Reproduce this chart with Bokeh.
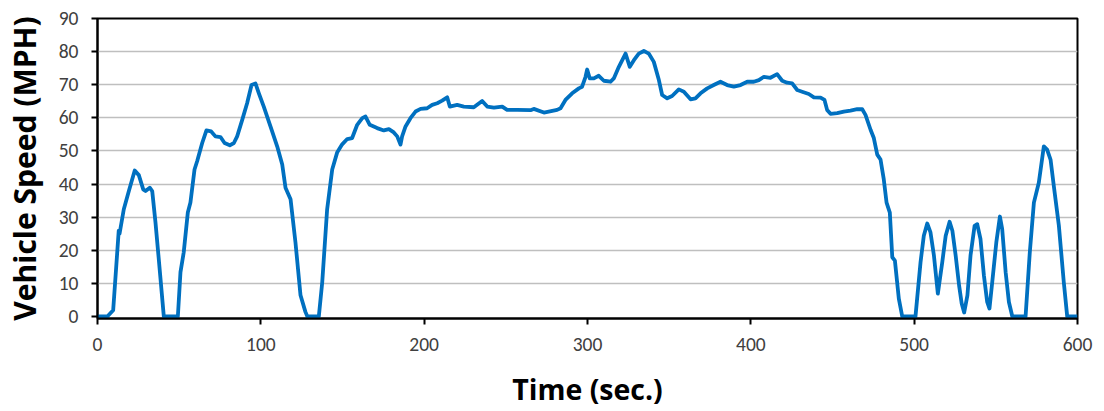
from bokeh.plotting import figure
from bokeh.models import FixedTicker, Range1d
from bokeh.embed import file_html
from bokeh.resources import INLINE

time_s = [0, 6, 9.6, 13, 13.5, 16.1, 19.2, 22.8, 25.3, 28, 29.4, 32, 33.5, 35.5, 37.5, 40.6,
          49.2, 50.8, 52.8, 55.3, 56.9, 59.4, 61, 64.1, 66.7, 69.6, 72.2, 75.3, 77.8, 81, 83.5,
          85.5, 88.6, 91.6, 94.3, 96.7, 98.8, 101.8, 105.9, 110, 113.1, 115.1, 118.2, 121.2,
          124.3, 127.3, 128.5, 135.5, 137.6, 140.6, 143.7, 146.7, 149.8, 152.9, 155.9, 159,
          162.1, 164.1, 166.7, 171.2, 175.3, 178.4, 181.4, 183.5, 185.5, 186.5, 188.6, 191.6,
          194.7, 197.8, 201.8, 204.9, 208, 211, 214.1, 215.7, 220.2, 224.3, 230.4, 235.5, 238.6,
          242.7, 247.8, 250.8, 257, 265.1, 267.1, 273.3, 281.4, 283.5, 286.5, 290.6, 294.7,
          296.7, 298.8, 299.8, 301.4, 303.9, 306.9, 310, 314.1, 316.1, 319.2, 323.3, 325.9,
          328.4, 331.4, 334.5, 337.5, 340.6, 343.7, 345.7, 348.8, 351.8, 355.9, 359, 363.1,
          366.1, 369.2, 373.3, 377.3, 381.4, 385.5, 389.6, 393.7, 397.8, 401.8, 404.9, 408,
          412, 416.1, 419.2, 422.2, 425.3, 428.4, 431.4, 435.5, 438.6, 442.7, 445.1, 446.7,
          448.8, 452.9, 456.9, 461, 465.1, 468.2, 470.2, 473.3, 475.3, 477.4, 479.4, 481.4,
          483.1, 485.1, 486.6, 488.2, 490.6, 492.7, 500.8, 503.9, 505.9, 508, 510, 512.1,
          514.5, 517.2, 519.3, 521.7, 523.4, 525.4, 527.5, 529.1, 530.6, 532.6, 534.5, 537,
          538.6, 540.6, 542.7, 544.7, 546.1, 547.8, 550.3, 552.5, 553.9, 556, 558, 560.1,
          568.2, 570.8, 573.3, 576.3, 579.4, 581.4, 583.5, 585.5, 588.6, 591.6, 593.7, 600]

speed_mph = [0, 0, 1.9, 25.9, 25, 32.4, 37.9, 44.1, 42.7, 38.4, 37.9, 38.9, 37.9, 28.4, 17.4, 0,
             0, 13.4, 19.4, 31.4, 34.4, 44.4, 46.9, 52.4, 56.2, 55.9, 54.4, 54.2, 52.4, 51.7, 52.4,
             54.4, 59.4, 64.4, 69.9, 70.4, 67.4, 63.4, 57.4, 51.4, 45.9, 38.9, 35.4, 22.4,
             6.4, 1.4, 0, 0, 10.4, 32.4, 44.4, 49.5, 52, 53.6, 53.9, 57.9,
             59.9, 60.4, 57.9, 56.9, 56.2, 56.6, 55.6, 54.4, 51.9, 54.4, 57.4, 59.9,
             61.9, 62.7, 62.9, 63.9, 64.4, 65.2, 66.2, 63.4, 63.9, 63.4, 63.2, 65.1, 63.4,
             63.1, 63.4, 62.4, 62.4, 62.3, 62.7, 61.6, 62.4, 62.9, 65.4, 67.4, 68.9,
             69.4, 72.4, 74.6, 71.9, 71.9, 72.7, 71.2, 70.9, 71.9, 75.4, 79.4, 75.4,
             77.4, 79.4, 80.2, 79.4, 76.9, 71.4, 66.9, 65.9, 66.6, 68.6, 67.9, 65.6,
             65.9, 67.4, 68.9, 69.9, 70.9, 69.9, 69.4, 69.9, 70.9, 70.9, 71.4, 72.4,
             72.1, 73.2, 71.2, 70.6, 70.4, 68.4, 67.9, 67.2, 66.2, 66.1, 65.4, 62.4,
             61.2, 61.4, 61.9, 62.2, 62.6, 62.6, 60.9, 56.4, 53.9, 48.9, 47.4, 41.4,
             34.4, 31.4, 17.9, 16.9, 5.4, 0, 0, 16.4, 24.4, 28.1, 25.4, 18.4,
             6.9, 16.4, 24.4, 28.6, 25.9, 18.4, 9.4, 3.9, 1.2, 6.4, 18.4, 27.4,
             27.9, 23.4, 12.4, 4.4, 2.4, 10.4, 22.4, 30.2, 26.4, 13.4, 4.4, 0,
             0, 19.4, 34.4, 40.4, 51.4, 50.4, 47.4, 39.4, 27.4, 10.4, 0, 0]

x_ticks = [0, 100, 200, 300, 400, 500, 600]
y_ticks = [0, 10, 20, 30, 40, 50, 60, 70, 80, 90]

TICK_FONT = "Carlito, Calibri, Lato, sans-serif"
TITLE_FONT = "Open Sans"

p = figure(width=1101, height=410, output_backend="svg", toolbar_location=None,
           x_range=Range1d(0, 600), y_range=Range1d(-0.6, 90),
           min_border_left=97, min_border_right=24, min_border_top=18, min_border_bottom=92)

p.line(time_s, speed_mph, line_color="#0070C0", line_width=3.8, line_join="round")

p.outline_line_color = "black"
p.outline_line_width = 2
p.background_fill_color = "white"
p.border_fill_color = "white"

p.xgrid.grid_line_color = None
p.ygrid.grid_line_color = "#BFBFBF"
p.ygrid.grid_line_width = 1.5
p.ygrid.ticker = FixedTicker(ticks=y_ticks[1:])

p.xaxis.ticker = FixedTicker(ticks=x_ticks)
p.yaxis.ticker = FixedTicker(ticks=y_ticks)
for ax in (p.xaxis[0], p.yaxis[0]):
    ax.axis_line_color = "black"
    ax.axis_line_width = 2
    ax.major_tick_line_color = "black"
    ax.major_tick_line_width = 2
    ax.major_tick_in = 0
    ax.major_tick_out = 6
    ax.minor_tick_line_color = None
    ax.major_label_text_font = TICK_FONT
    ax.major_label_text_font_size = "19.5px"
    ax.major_label_text_color = "#404040"
    ax.axis_label_text_font = TITLE_FONT
    ax.axis_label_text_font_style = "bold"
    ax.axis_label_text_color = "black"

p.xaxis.axis_label = "Time (sec.)"
p.xaxis.axis_label_text_font_size = "28.5px"
p.xaxis.major_label_standoff = 13
p.xaxis.axis_label_standoff = 16
p.yaxis.axis_label = "Vehicle Speed (MPH)"
p.yaxis.axis_label_text_font_size = "30px"
p.yaxis.major_label_standoff = 13
p.yaxis.axis_label_standoff = 11

open("out.html", "w").write(file_html(p, INLINE))
